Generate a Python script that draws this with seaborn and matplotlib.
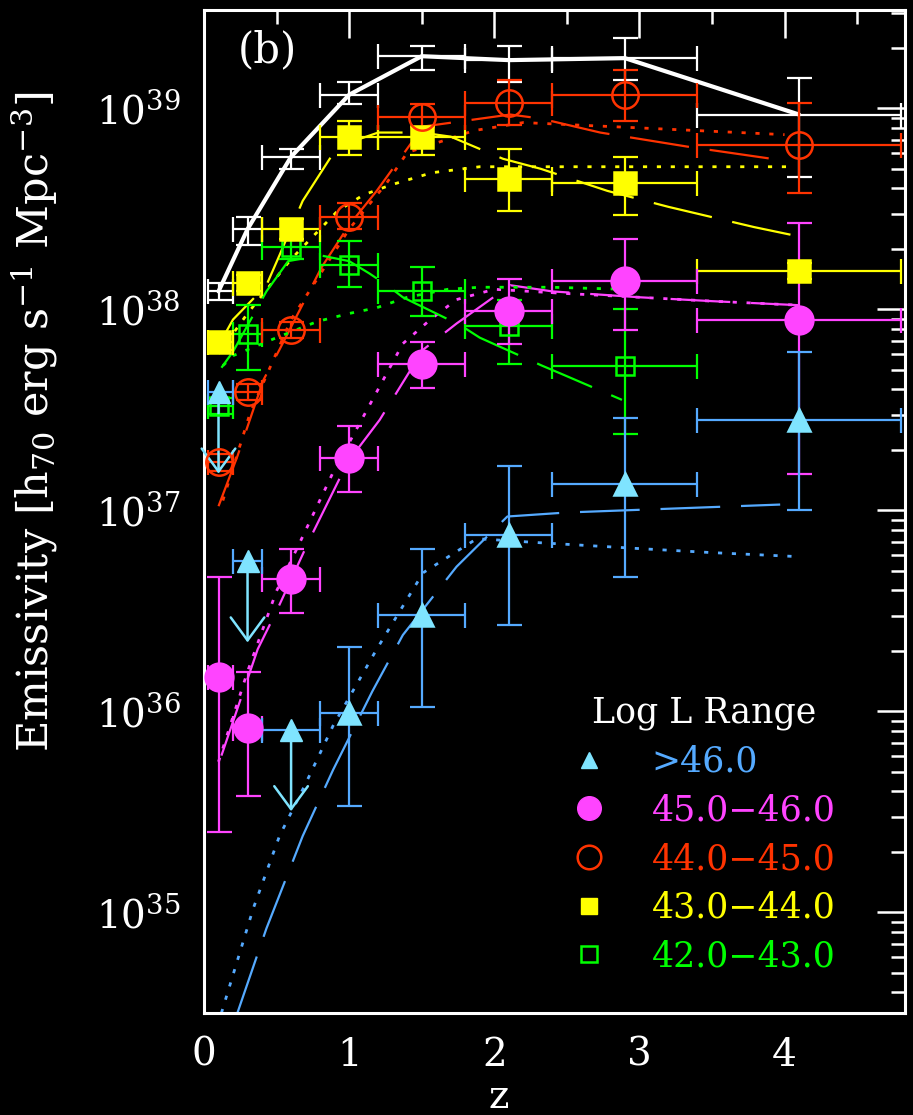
import matplotlib
matplotlib.use("Agg")
import matplotlib.pyplot as plt
import numpy as np
import pandas as pd
import seaborn as sns
from matplotlib.lines import Line2D
from matplotlib.ticker import LogLocator, MultipleLocator, NullFormatter

# ---------------- data ----------------
z_mid = [0.1, 0.3, 0.6, 1.0, 1.5, 2.1, 2.9, 4.1]
z_lo = [0.03, 0.2, 0.4, 0.8, 1.2, 1.8, 2.4, 3.4]
z_hi = [0.2, 0.4, 0.8, 1.2, 1.8, 2.4, 3.4, 4.8]

# total (white)
tot_val = [1.23e38, 2.51e38, 5.75e38, 1.17e39, 1.82e39, 1.74e39, 1.78e39, 9.33e38]
tot_lo = [1.12e38, 2.09e38, 5.01e38, 1.05e39, 1.55e39, 1.35e39, 1.38e39, 4.57e38]
tot_hi = [1.35e38, 2.88e38, 6.31e38, 1.35e39, 2.04e39, 2.04e39, 2.24e39, 1.41e39]

# 43.0-44.0 (yellow, filled squares)
y43_val = [6.92e37, 1.35e38, 2.51e38, 7.24e38, 7.24e38, 4.47e38, 4.27e38, 1.55e38]
y43_lo = [6.31e37, 1.23e38, 2.24e38, 5.89e38, 5.89e38, 3.09e38, 2.95e38, 1.41e38]
y43_hi = [7.59e37, 1.48e38, 2.82e38, 8.71e38, 8.13e38, 6.31e38, 5.75e38, 1.70e38]

# 44.0-45.0 (red, open circles)
r44_val = [1.74e37, 3.89e37, 7.94e37, 2.88e38, 9.12e38, 1.07e39, 1.17e39, 6.61e38]
r44_lo = [1.58e37, 3.55e37, 7.24e37, 2.51e38, 8.13e38, 8.32e38, 8.71e38, 3.80e38]
r44_hi = [1.91e37, 4.27e37, 8.71e37, 3.39e38, 1.05e39, 1.38e39, 1.55e39, 1.07e39]

# 42.0-43.0 (green, open squares) - first 7 bins
g42_val = [3.31e37, 7.59e37, 2.04e38, 1.66e38, 1.23e38, 8.32e37, 5.25e37]
g42_lo = [3.02e37, 5.01e37, 1.78e38, 1.29e38, 9.33e37, 5.37e37, 2.40e37]
g42_hi = [3.63e37, 1.05e38, 2.24e38, 2.19e38, 1.62e38, 1.12e38, 1.00e38]

# 45.0-46.0 (magenta, filled circles)
m45_val = [1.48e36, 8.32e35, 4.57e36, 1.82e37, 5.37e37, 9.77e37, 1.38e38, 8.91e37]
m45_lo = [2.51e35, 3.80e35, 3.09e36, 1.23e37, 4.07e37, 6.76e37, 7.94e37, 1.51e37]
m45_hi = [4.68e36, 1.58e36, 6.46e36, 2.63e37, 6.92e37, 1.41e38, 2.24e38, 2.69e38]

# >46.0 (cyan triangles): upper limits in first three bins, detections after
c46_ul = [3.89e37, 5.62e36, 8.13e35]
c46_val = [9.77e35, 3.02e36, 7.59e36, 1.35e37, 2.82e37]
c46_lo = [3.39e35, 1.05e36, 2.69e36, 4.68e36, 1.00e37]
c46_hi = [2.09e36, 6.46e36, 1.66e37, 2.88e37, 6.17e37]

# model curves (long dash = fit A, dotted = fit B)
cyan_dash_z = [0.23, 0.43, 0.68, 0.89, 1.16, 1.37, 1.74, 2.09, 2.5, 3.2, 3.97]
cyan_dash_v = [3.16e34, 8.32e34, 2.40e35, 5.13e35, 1.26e36, 2.40e36, 5.25e36, 9.33e36, 9.77e36, 1.02e37, 1.07e37]
cyan_dot_z = [0.12, 0.34, 0.52, 0.7, 0.89, 1.19, 1.51, 1.88, 2.3, 3.0, 3.5, 4.1]
cyan_dot_v = [3.16e34, 1.05e35, 2.40e35, 4.37e35, 8.51e35, 2.04e36, 4.90e36, 7.24e36, 6.92e36, 6.46e36, 6.17e36, 5.89e36]

mag_dash_z = [0.12, 0.37, 0.5, 0.73, 0.99, 1.21, 1.51, 1.74, 2.11, 2.4, 3.0, 3.5, 4.1]
mag_dash_v = [6.03e35, 2.04e36, 3.16e36, 7.24e36, 1.74e37, 2.82e37, 6.31e37, 8.51e37, 1.32e38, 1.23e38, 1.15e38, 1.10e38, 1.05e38]
mag_dot_z = [0.1, 0.3, 0.5, 0.66, 0.89, 1.19, 1.37, 1.56, 1.74, 2.0, 2.5, 3.0, 3.5, 4.1]
mag_dot_v = [5.62e35, 1.58e36, 3.98e36, 6.92e36, 1.55e37, 3.89e37, 6.76e37, 8.91e37, 1.12e38, 1.26e38, 1.20e38, 1.15e38, 1.10e38, 1.05e38]

red_dash_z = [0.1, 0.23, 0.41, 0.52, 0.81, 1.0, 1.19, 1.51, 1.81, 2.11, 2.32, 2.73, 3.33, 4.0]
red_dash_v = [1.05e37, 1.86e37, 4.47e37, 6.31e37, 1.62e38, 2.63e38, 3.89e38, 8.13e38, 8.71e38, 9.33e38, 8.91e38, 7.59e38, 6.46e38, 5.50e38]
red_dot_z = [0.13, 0.32, 0.6, 1.0, 1.26, 1.4, 1.86, 2.2, 2.8, 4.0]
red_dot_v = [1.12e37, 3.09e37, 8.91e37, 2.51e38, 4.27e38, 6.03e38, 7.76e38, 8.51e38, 8.13e38, 7.41e38]

yel_dash_z = [0.1, 0.2, 0.43, 0.52, 0.68, 0.92, 1.2, 1.5, 1.7, 2.06, 2.32, 2.78, 3.2, 3.79, 4.06]
yel_dash_v = [6.61e37, 8.91e37, 1.32e38, 1.86e38, 3.47e38, 6.46e38, 7.59e38, 7.59e38, 7.24e38, 5.62e38, 5.01e38, 3.89e38, 3.24e38, 2.57e38, 2.34e38]
yel_dot_z = [0.1, 0.3, 0.6, 0.92, 1.1, 1.29, 1.57, 1.9, 2.5, 3.2, 4.06]
yel_dot_v = [6.03e37, 9.55e37, 1.78e38, 3.09e38, 3.72e38, 4.17e38, 4.79e38, 5.13e38, 5.13e38, 5.13e38, 5.13e38]

grn_dash_z = [0.12, 0.2, 0.43, 0.58, 0.8, 1.0, 1.14, 1.28, 1.37, 1.77, 1.9, 2.33, 2.46, 2.88]
grn_dash_v = [5.13e37, 6.17e37, 1.23e38, 1.74e38, 1.86e38, 1.74e38, 1.51e38, 1.29e38, 1.15e38, 8.32e37, 7.24e37, 5.25e37, 4.79e37, 3.55e37]
grn_dot_z = [0.13, 0.2, 0.5, 0.78, 1.0, 1.19, 1.4, 1.68, 1.9, 2.39, 2.9]
grn_dot_v = [5.25e37, 5.89e37, 7.24e37, 8.71e37, 9.55e37, 1.02e38, 1.15e38, 1.26e38, 1.29e38, 1.29e38, 1.26e38]

legend_labels = [">46.0", "45.0\u221246.0", "44.0\u221245.0", "43.0\u221244.0", "42.0\u221243.0"]

# ---------------- style ----------------
C_CYAN = "#7fe4ff"
C_BLUE = "#55aaff"
C_MAG = "#ff44ff"
C_RED = "#ff3300"
C_YEL = "#ffff00"
C_GRN = "#00ff00"

sns.set_theme(style="dark")
plt.rcParams.update({
    "figure.facecolor": "black",
    "axes.facecolor": "black",
    "savefig.facecolor": "black",
    "axes.edgecolor": "white",
    "axes.linewidth": 2.2,
    "text.color": "white",
    "axes.labelcolor": "white",
    "xtick.color": "white",
    "ytick.color": "white",
    "axes.grid": False,
    "lines.scale_dashes": False,
    "mathtext.fontset": "dejavuserif",
})
plt.rcParams["font.family"] = ["DejaVu Serif", "DejaVu Sans"]

fig = plt.figure(figsize=(9.13, 11.15), dpi=100)
ax = fig.add_axes([204 / 913, 1 - 1013 / 1115, 701 / 913, 1003 / 1115])
ax.set_yscale("log")

LONG = (0, (43, 15))
DOT = (0, (3, 7))

def curve(zs, vs, color, ls, lw=1.6):
    df = pd.DataFrame({"z": zs, "e": vs})
    sns.lineplot(data=df, x="z", y="e", color=color, linestyle=ls, lw=lw,
                 ax=ax, errorbar=None, sort=True, zorder=2)

curve(cyan_dash_z, cyan_dash_v, C_BLUE, LONG)
curve(cyan_dot_z, cyan_dot_v, C_BLUE, DOT, 2.0)
curve(mag_dash_z, mag_dash_v, C_MAG, LONG)
curve(mag_dot_z, mag_dot_v, C_MAG, DOT, 2.0)
curve(red_dash_z, red_dash_v, C_RED, LONG)
curve(red_dot_z, red_dot_v, C_RED, DOT, 2.0)
curve(yel_dash_z, yel_dash_v, C_YEL, LONG)
curve(yel_dot_z, yel_dot_v, C_YEL, DOT, 2.0)
curve(grn_dash_z, grn_dash_v, C_GRN, LONG)
curve(grn_dot_z, grn_dot_v, C_GRN, DOT, 2.0)

# total: solid thick white line
sns.lineplot(x=z_mid, y=tot_val, color="white", lw=3.0, ax=ax, errorbar=None, zorder=3)

def points(n, val, lo, hi, color, marker, ms, filled=True, ecolor=None, start=0):
    zs = np.array(z_mid[start:start + n])
    zl = np.array(z_lo[start:start + n])
    zh = np.array(z_hi[start:start + n])
    v = np.array(val); l = np.array(lo); h = np.array(hi)
    ax.errorbar(zs, v, yerr=[v - l, h - v], xerr=[zs - zl, zh - zs], fmt="none",
                ecolor=ecolor or color, elinewidth=1.6, capsize=9, capthick=1.6, zorder=4)
    ax.plot(zs, v, ls="none", marker=marker, ms=ms, mew=1.8,
            mfc=color if filled else "none", mec=color, zorder=5)

points(8, tot_val, tot_lo, tot_hi, "white", None, 0)
points(7, g42_val, g42_lo, g42_hi, C_GRN, "s", 13, filled=False)
points(8, y43_val, y43_lo, y43_hi, C_YEL, "s", 16)
points(8, r44_val, r44_lo, r44_hi, C_RED, "o", 19, filled=False)
points(8, m45_val, m45_lo, m45_hi, C_MAG, "o", 20)
points(5, c46_val, c46_lo, c46_hi, C_CYAN, "^", 16, ecolor=C_BLUE, start=3)

# upper limits for >46.0
ul_z = np.array(z_mid[:3])
ul_zl = np.array(z_lo[:3]); ul_zh = np.array(z_hi[:3])
ul_v = np.array(c46_ul)
ax.errorbar(ul_z, ul_v, xerr=[ul_z - ul_zl, ul_zh - ul_z], fmt="none", ecolor=C_BLUE,
            elinewidth=1.6, capsize=9, capthick=1.6, zorder=4)
ax.plot(ul_z, ul_v, ls="none", marker="^", ms=16, mfc=C_CYAN, mec=C_CYAN, zorder=5)
for zz, vv in zip(ul_z, ul_v):
    ax.annotate("", xy=(zz, vv / 2.55), xytext=(zz, vv),
                arrowprops=dict(arrowstyle="->, head_width=0.55, head_length=0.75",
                                color=C_CYAN, lw=1.8, mutation_scale=22, shrinkA=0, shrinkB=0),
                zorder=4)

# ---------------- axes ----------------
ax.set_xlim(0, 4.83)
ax.set_ylim(3.16e34, 3.09e39)
ax.xaxis.set_major_locator(MultipleLocator(1))
ax.xaxis.set_minor_locator(MultipleLocator(0.5))
ax.yaxis.set_major_locator(LogLocator(base=10, numticks=20))
ax.yaxis.set_minor_locator(LogLocator(base=10, subs=np.arange(2, 10), numticks=50))
ax.yaxis.set_minor_formatter(NullFormatter())
ax.tick_params(which="major", direction="in", length=20, width=1.8,
               top=True, right=True, labelsize=28, pad=17)
ax.tick_params(which="minor", direction="in", length=10, width=1.8, top=True, right=True)
for s in ax.spines.values():
    s.set_color("white")
    s.set_linewidth(2.2)

ax.set_xlabel("z", fontsize=28)
ax.xaxis.set_label_coords(0.42, -0.066)
ax.set_ylabel(r"Emissivity [h$_{70}$ erg s$^{-1}$ Mpc$^{-3}$]", fontsize=31)
ax.yaxis.set_label_coords(-0.205, 0.589)

ax.text(0.09, 0.96, "(b)", transform=ax.transAxes, fontsize=30, ha="center", va="center")

# legend
handles = [
    Line2D([], [], ls="none", marker="^", ms=12, mfc=C_CYAN, mec=C_CYAN),
    Line2D([], [], ls="none", marker="o", ms=17, mfc=C_MAG, mec=C_MAG),
    Line2D([], [], ls="none", marker="o", ms=17, mfc="none", mec=C_RED, mew=1.8),
    Line2D([], [], ls="none", marker="s", ms=12, mfc=C_YEL, mec=C_YEL),
    Line2D([], [], ls="none", marker="s", ms=12, mfc="none", mec=C_GRN, mew=1.8),
]
leg = ax.legend(handles, legend_labels, title="Log L Range", loc="upper left",
                bbox_to_anchor=(0.505, 0.33), frameon=False, fontsize=25,
                title_fontsize=25, handlelength=1.0, handletextpad=1.3,
                labelspacing=0.42, borderaxespad=0)
for t, c in zip(leg.get_texts(), [C_BLUE, C_MAG, C_RED, C_YEL, C_GRN]):
    t.set_color(c)
leg.get_title().set_color("white")

fig.savefig("out.png", dpi=100, facecolor="black")
